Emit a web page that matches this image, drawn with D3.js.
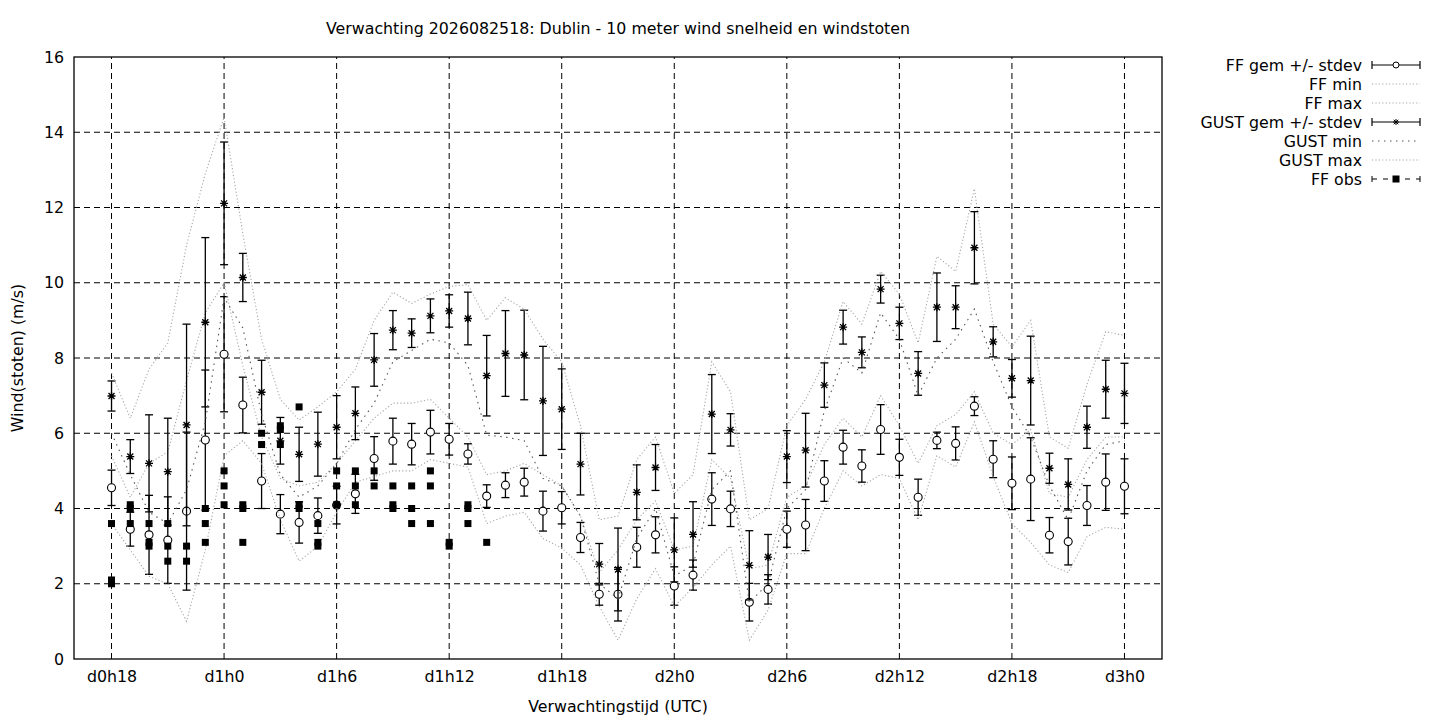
<!DOCTYPE html>
<html>
<head>
<meta charset="utf-8">
<script src="https://cdn.jsdelivr.net/npm/d3@7"></script>
<style>
  body { margin: 0; background: #fff; }
  text { font-family: "DejaVu Sans", sans-serif; font-size: 15.8px; fill: #000; }
</style>
</head>
<body>
<svg id="chart"></svg>
<script>
// forecast hours (from d0h0)
const hours = [18,19,20,21,22,23,24,25,26,27,28,29,30,31,32,33,34,35,36,37,38,39,40,41,42,43,44,45,
  46,47,48,49,50,51,52,53,54,55,56,57,58,59,60,61,62,63,64,65,66,67,68,69,70,71,72]

const ffMean = [4.55,3.45,3.30,3.16,3.93,5.82,8.10,6.75,4.73,3.85, 3.63,3.81,4.09,4.39,5.33,5.79,5.71,6.03,5.84,5.45,
  4.33,4.62,4.70,3.93,4.02,3.23,1.72,1.72,2.97,3.30, 1.94,2.23,4.25,3.99,1.51,1.85,3.45,3.56,4.73,5.63,
  5.13,6.10,5.36,4.30,5.81,5.73,6.72,5.31,4.67,4.78, 3.29,3.12,4.08,4.70,4.59]
const ffSd = [0.47,0.45,1.05,1.15,2.10,1.86,1.53,0.74,0.73,0.52, 0.55,0.47,0.50,0.52,0.58,0.61,0.55,0.58,0.42,0.27,
  0.30,0.33,0.37,0.53,0.43,0.40,0.29,0.71,0.53,0.48, 0.51,0.40,0.70,0.47,0.50,0.39,0.48,0.68,0.54,0.45,
  0.43,0.66,0.48,0.48,0.22,0.44,0.25,0.49,0.70,1.10, 0.47,0.62,0.53,0.75,0.73]
const ffMin = [3.6,2.9,2.2,2.0,1.0,2.9,5.4,5.8,5.2,3.7, 2.6,3.0,3.9,4.7,4.85,5.0,5.0,5.3,5.2,5.1,
  3.6,3.8,3.9,3.2,2.95,2.5,1.4,0.5,1.6,2.4, 1.4,1.9,2.5,3.0,0.5,1.3,2.8,2.8,4.0,5.0,
  4.6,4.9,4.8,3.7,5.4,5.1,6.3,4.85,3.6,3.1, 2.5,2.3,3.25,3.5,3.45]
const ffMax = [5.4,4.3,5.2,5.5,7.4,9.2,10.0,7.8,5.9,4.8, 4.6,4.7,5.2,5.8,6.4,6.8,6.8,6.9,6.4,5.9,
  4.9,5.0,5.2,4.9,4.6,3.8,2.3,2.9,3.7,4.2, 2.9,3.0,5.3,4.8,2.4,2.5,4.3,4.6,5.7,6.4,
  5.9,7.0,6.2,5.2,6.2,6.5,7.1,6.0,5.7,6.1, 4.4,4.3,5.3,5.9,5.9]

const gustMean = [6.99,5.38,5.20,4.98,6.22,8.95,12.11,10.14,7.09,5.80, 5.44,5.71,6.16,6.53,7.95,8.74,8.66,9.12,9.25,9.05,
  7.53,8.12,8.08,6.86,6.64,5.18,2.52,2.38,4.43,5.09, 2.90,3.31,6.51,6.09,2.49,2.71,5.38,5.55,7.28,8.82,
  8.15,9.83,8.92,7.59,9.35,9.35,10.93,8.43,7.46,7.40, 5.07,4.64,6.16,7.17,7.06]
const gustSd = [0.40,0.45,1.29,1.42,2.68,2.25,1.63,0.64,0.85,0.62, 0.72,0.85,0.84,0.70,0.70,0.52,0.38,0.45,0.43,0.70,
  1.07,1.14,1.19,1.45,1.07,0.82,0.55,1.10,0.73,0.61, 0.85,0.87,1.05,0.43,0.92,0.60,0.69,0.98,0.59,0.45,
  0.41,0.37,0.43,0.58,0.91,0.57,0.96,0.40,0.50,1.18, 0.40,0.68,0.56,0.77,0.80]
const gustMin = [6.0,4.9,3.9,3.6,4.5,6.3,9.6,8.8,6.5,4.9, 4.3,4.6,5.2,6.1,6.8,7.9,8.2,8.5,8.4,7.8,
  5.95,5.9,5.8,4.8,4.6,3.8,2.0,1.6,3.2,4.0, 2.2,2.5,4.5,5.0,1.5,2.0,4.0,4.5,6.6,8.0,
  7.6,9.2,8.5,7.0,8.0,8.5,9.3,7.9,6.7,5.9, 4.6,3.7,5.0,5.7,5.8]
const gustMax = [7.6,6.4,7.7,8.4,11.0,12.9,14.4,11.3,8.5,6.9, 6.35,6.7,7.1,7.7,9.0,9.75,9.45,9.7,9.9,9.95,
  9.0,9.6,9.3,8.5,7.9,6.2,3.7,3.8,5.3,5.9, 4.4,4.9,7.9,7.1,3.7,4.0,6.2,6.9,7.9,9.5,
  8.9,10.3,9.7,8.4,10.7,10.3,12.5,8.9,8.3,9.0, 5.9,5.6,7.3,8.7,8.6]

// observations (several per hour)
const obsHours = [18,18,18, 19,19,19, 20,20,20, 21,21,21, 22,22, 23,23,23, 24,24,24, 25,25,25, 26,26,
  27,27,27, 28,28,28, 29,29,29, 30,30,30, 31,31,31, 32,32, 33,33,33, 34,34,34, 35,35,35, 36,36, 37,37,37, 38]
const obsFF = [3.6,2.1,2.0, 4.1,4.0,3.6, 3.6,3.1,3.0, 3.6,3.0,2.6, 3.0,2.6, 4.0,3.6,3.1, 5.0,4.6,4.1, 4.1,4.0,3.1, 6.0,5.7,
  6.2,6.1,5.7, 6.7,4.1,4.0, 3.6,3.1,3.0, 5.0,4.6,4.1, 5.0,4.6,4.1, 5.0,4.6, 4.6,4.1,4.0, 4.6,4.0,3.6, 5.0,4.6,3.6, 3.1,3.0, 4.1,4.0,3.6, 3.1]

const xTickHours = [18,24,30,36,42,48,54,60,66,72]
const xTickLabels = ["d0h18","d1h0","d1h6","d1h12","d1h18","d2h0","d2h6","d2h12","d2h18","d3h0"]
const yTicks = [0,2,4,6,8,10,12,14,16]

const legendLabels = ["FF gem +/- stdev","FF min","FF max","GUST gem +/- stdev","GUST min","GUST max","FF obs"]

const width = 1440, height = 720
const plotLeft = 74, plotRight = 1162, plotTop = 57, plotBottom = 659

const svg = d3.select("#chart").attr("width", width).attr("height", height)

let x = d3.scaleLinear().domain([16, 74]).range([plotLeft, plotRight])
let y = d3.scaleLinear().domain([0, 16]).range([plotBottom, plotTop])

// grid
svg.append("g").selectAll("line")
  .data(yTicks.filter(d => d > 0 && d < 16))
  .enter().append("line")
  .attr("x1", plotLeft).attr("x2", plotRight)
  .attr("y1", d => y(d)).attr("y2", d => y(d))
  .attr("stroke", "#000").attr("stroke-width", 1).attr("stroke-dasharray", "6,4")

svg.append("g").selectAll("line")
  .data(xTickHours)
  .enter().append("line")
  .attr("x1", d => x(d)).attr("x2", d => x(d))
  .attr("y1", plotBottom).attr("y2", plotTop)
  .attr("stroke", "#000").attr("stroke-width", 1).attr("stroke-dasharray", "6,4")

// axes labels
let yAxis = d3.axisLeft(y).tickValues(yTicks).tickSize(0).tickPadding(10)
svg.append("g").attr("transform", "translate(" + plotLeft + ",0)").call(yAxis)
  .call(g => g.select(".domain").remove())
  .selectAll("text").style("font-size", "15.8px").style("font-family", "DejaVu Sans")

let xAxis = d3.axisBottom(x).tickValues(xTickHours).tickFormat((d, i) => xTickLabels[i]).tickSize(0).tickPadding(12)
svg.append("g").attr("transform", "translate(0," + plotBottom + ")").call(xAxis)
  .call(g => g.select(".domain").remove())
  .selectAll("text").style("font-size", "15.8px").style("font-family", "DejaVu Sans")

svg.append("rect")
  .attr("x", plotLeft).attr("y", plotTop)
  .attr("width", plotRight - plotLeft).attr("height", plotBottom - plotTop)
  .attr("fill", "none").attr("stroke", "#000").attr("stroke-width", 1.3)

svg.append("text").attr("x", 618).attr("y", 34).attr("text-anchor", "middle")
  .text("Verwachting 2026082518: Dublin - 10 meter wind snelheid en windstoten")
svg.append("text").attr("x", 618).attr("y", 712).attr("text-anchor", "middle")
  .text("Verwachtingstijd (UTC)")
svg.append("text").attr("transform", "translate(23," + (plotTop + plotBottom) / 2 + ") rotate(-90)")
  .attr("text-anchor", "middle").text("Wind(stoten) (m/s)")

const capW = 4

function errorBars(mean, sd) {
  let g = svg.append("g")
  let bars = g.selectAll("g").data(hours).enter().append("g")
  bars.append("line")
    .attr("x1", d => x(d)).attr("x2", d => x(d))
    .attr("y1", (d, i) => y(mean[i] - sd[i])).attr("y2", (d, i) => y(mean[i] + sd[i]))
    .attr("stroke", "#000").attr("stroke-width", 1.3)
  bars.append("line")
    .attr("x1", d => x(d) - capW).attr("x2", d => x(d) + capW)
    .attr("y1", (d, i) => y(mean[i] - sd[i])).attr("y2", (d, i) => y(mean[i] - sd[i]))
    .attr("stroke", "#000").attr("stroke-width", 1.3)
  bars.append("line")
    .attr("x1", d => x(d) - capW).attr("x2", d => x(d) + capW)
    .attr("y1", (d, i) => y(mean[i] + sd[i])).attr("y2", (d, i) => y(mean[i] + sd[i]))
    .attr("stroke", "#000").attr("stroke-width", 1.3)
  return bars
}

function starPath(cx, cy, r) {
  let d = r * 0.75
  return "M" + (cx - r) + "," + cy + "H" + (cx + r) +
    "M" + cx + "," + (cy - r) + "V" + (cy + r) +
    "M" + (cx - d) + "," + (cy - d) + "L" + (cx + d) + "," + (cy + d) +
    "M" + (cx - d) + "," + (cy + d) + "L" + (cx + d) + "," + (cy - d)
}

function dotLine(values, colour, dash) {
  let line = d3.line().x((d, i) => x(hours[i])).y(d => y(d))
  svg.append("path")
    .datum(values)
    .attr("d", line)
    .attr("fill", "none")
    .attr("stroke", colour)
    .attr("stroke-width", 1.1)
    .attr("stroke-dasharray", dash)
}

const lightDash = "1.2,2.2"
const gustMinDash = "1.5,4.5"

// FF mean +/- stdev
errorBars(ffMean, ffSd).append("circle")
  .attr("cx", d => x(d)).attr("cy", (d, i) => y(ffMean[i]))
  .attr("r", 4).attr("fill", "#fff").attr("stroke", "#000").attr("stroke-width", 1.1)

dotLine(ffMin, "#a8a8a8", lightDash)
dotLine(ffMax, "#a8a8a8", lightDash)

// GUST mean +/- stdev
errorBars(gustMean, gustSd).append("path")
  .attr("d", (d, i) => starPath(x(d), y(gustMean[i]), 4))
  .attr("stroke", "#000").attr("stroke-width", 1.3).attr("fill", "none")

dotLine(gustMin, "#555", gustMinDash)
dotLine(gustMax, "#a8a8a8", lightDash)

// FF obs
svg.append("g").selectAll("rect")
  .data(obsFF)
  .enter().append("rect")
  .attr("x", (d, i) => x(obsHours[i]) - 3.5)
  .attr("y", d => y(d) - 3.5)
  .attr("width", 7).attr("height", 7)
  .attr("fill", "#000")

// legend
let lg = svg.append("g")
let rowY = i => 65 + i * 19
let sx0 = 1372, sx1 = 1420, smid = (sx0 + sx1) / 2
lg.selectAll("text").data(legendLabels).enter().append("text")
  .attr("x", 1362).attr("y", (d, i) => rowY(i) + 5.5).attr("text-anchor", "end").text(d => d)

function legendBar(i) {
  let yy = rowY(i)
  lg.append("line").attr("x1", sx0).attr("x2", sx1).attr("y1", yy).attr("y2", yy).attr("stroke", "#000").attr("stroke-width", 1.2)
  lg.append("line").attr("x1", sx0).attr("x2", sx0).attr("y1", yy - 4).attr("y2", yy + 4).attr("stroke", "#000").attr("stroke-width", 1.2)
  lg.append("line").attr("x1", sx1).attr("x2", sx1).attr("y1", yy - 4).attr("y2", yy + 4).attr("stroke", "#000").attr("stroke-width", 1.2)
}
function legendDots(i, colour, dash) {
  lg.append("line").attr("x1", sx0).attr("x2", sx1).attr("y1", rowY(i)).attr("y2", rowY(i))
    .attr("stroke", colour).attr("stroke-width", 1.1).attr("stroke-dasharray", dash)
}
legendBar(0)
lg.append("circle").attr("cx", smid).attr("cy", rowY(0)).attr("r", 3).attr("fill", "#fff").attr("stroke", "#000")
legendDots(1, "#a8a8a8", lightDash)
legendDots(2, "#a8a8a8", lightDash)
legendBar(3)
lg.append("path").attr("d", starPath(smid, rowY(3), 3)).attr("stroke", "#000").attr("fill", "none")
legendDots(4, "#555", gustMinDash)
legendDots(5, "#a8a8a8", lightDash)
lg.append("line").attr("x1", sx0).attr("x2", sx1).attr("y1", rowY(6)).attr("y2", rowY(6))
  .attr("stroke", "#000").attr("stroke-width", 1.1).attr("stroke-dasharray", "5,6")
lg.append("line").attr("x1", sx0).attr("x2", sx0).attr("y1", rowY(6) - 3).attr("y2", rowY(6) + 3).attr("stroke", "#000")
lg.append("line").attr("x1", sx1).attr("x2", sx1).attr("y1", rowY(6) - 3).attr("y2", rowY(6) + 3).attr("stroke", "#000")
lg.append("rect").attr("x", smid - 3.5).attr("y", rowY(6) - 3.5).attr("width", 7).attr("height", 7).attr("fill", "#000")
</script>
</body>
</html>
